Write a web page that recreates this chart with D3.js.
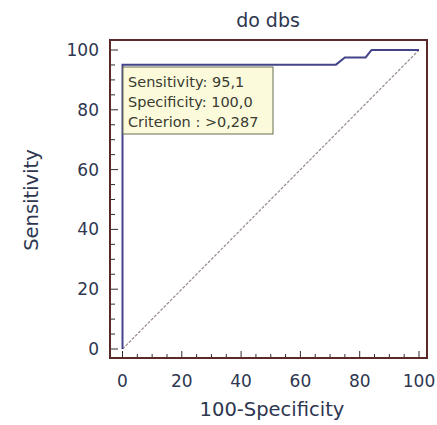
<!DOCTYPE html>
<html>
<head>
<meta charset="utf-8">
<script src="https://cdn.jsdelivr.net/npm/d3@7"></script>
<style>
  body { margin: 0; background: #fff; }
  text { font-family: "DejaVu Sans", sans-serif; }
</style>
</head>
<body>
<div id="chart"></div>
<script>
// ROC curve points (100-Specificity, Sensitivity)
var fpr = [0, 0, 72, 75, 82, 84, 100];
var sens = [0, 95.1, 95.1, 97.5, 97.5, 100, 100];
var tickValues = [0, 20, 40, 60, 80, 100];
var legendLines = ["Sensitivity: 95,1", "Specificity: 100,0", "Criterion : >0,287"];

var width = 437;
var height = 425;

var svg = d3.select("#chart")
    .append("svg")
    .attr("width", width)
    .attr("height", height);

// scales - frame goes a bit past the data range
var x = d3.scaleLinear().domain([0, 100]).range([122.5, 419]);
var y = d3.scaleLinear().domain([0, 100]).range([349, 50]);

var frameLeft = 110, frameRight = 427, frameTop = 40, frameBottom = 358;

// diagonal reference line
svg.append("line")
    .attr("x1", x(0)).attr("y1", y(0))
    .attr("x2", x(100)).attr("y2", y(100))
    .style("stroke", "#9a8a8a")
    .style("stroke-width", 1.2)
    .style("stroke-dasharray", "3,1.5");

// ROC curve
var line = d3.line()
    .x(function(d, i) { return x(fpr[i]); })
    .y(function(d, i) { return y(sens[i]); });

svg.append("path")
    .datum(sens)
    .attr("d", line)
    .style("fill", "none")
    .style("stroke", "#44448a")
    .style("stroke-width", 2);

// axes with inward ticks
var minor = d3.range(0, 101, 5);

var xAxis = svg.append("g")
    .attr("transform", "translate(0," + frameBottom + ")");
xAxis.selectAll(".minor")
    .data(minor)
    .enter().append("line")
    .attr("x1", function(d) { return x(d); })
    .attr("x2", function(d) { return x(d); })
    .attr("y1", 0)
    .attr("y2", function(d) { return d % 20 === 0 ? -7 : -4; })
    .style("stroke", "#3a2a2a");

var yAxis = svg.append("g")
    .attr("transform", "translate(" + frameLeft + ",0)");
yAxis.selectAll(".minor")
    .data(minor)
    .enter().append("line")
    .attr("y1", function(d) { return y(d); })
    .attr("y2", function(d) { return y(d); })
    .attr("x1", 0)
    .attr("x2", function(d) { return d % 20 === 0 ? 8 : 5; })
    .style("stroke", "#3a2a2a");

// tick labels
svg.selectAll(".xlab")
    .data(tickValues)
    .enter().append("text")
    .attr("x", function(d) { return x(d); })
    .attr("y", 387)
    .attr("text-anchor", "middle")
    .style("font-size", "17px")
    .style("fill", "#2e3650")
    .text(function(d) { return d; });

svg.selectAll(".ylab")
    .data(tickValues)
    .enter().append("text")
    .attr("x", 99)
    .attr("y", function(d) { return y(d) + 6; })
    .attr("text-anchor", "end")
    .style("font-size", "17px")
    .style("fill", "#2e3650")
    .text(function(d) { return d; });

// frame
svg.append("rect")
    .attr("x", frameLeft)
    .attr("y", frameTop)
    .attr("width", frameRight - frameLeft)
    .attr("height", frameBottom - frameTop)
    .style("fill", "none")
    .style("stroke", "#5a2a2a")
    .style("stroke-width", 2);

// legend box
var legend = svg.append("g").attr("transform", "translate(123,67)");
legend.append("rect")
    .attr("width", 150)
    .attr("height", 67)
    .style("fill", "#fbfbdc")
    .style("stroke", "#6a6a50")
    .style("stroke-width", 1);
legend.selectAll("text")
    .data(legendLines)
    .enter().append("text")
    .attr("x", 5)
    .attr("y", function(d, i) { return 20 + i * 20; })
    .style("font-size", "14.5px")
    .style("fill", "#3a3a30")
    .text(function(d) { return d; });

// titles
svg.append("text")
    .attr("x", 268)
    .attr("y", 27)
    .attr("text-anchor", "middle")
    .style("font-size", "19px")
    .style("fill", "#2e3650")
    .text("do dbs");

svg.append("text")
    .attr("x", 272)
    .attr("y", 416)
    .attr("text-anchor", "middle")
    .style("font-size", "19.5px")
    .style("fill", "#2e3650")
    .text("100-Specificity");

svg.append("text")
    .attr("transform", "translate(38," + 200 + ") rotate(-90)")
    .attr("text-anchor", "middle")
    .style("font-size", "19.5px")
    .style("fill", "#2e3650")
    .text("Sensitivity");
</script>
</body>
</html>
